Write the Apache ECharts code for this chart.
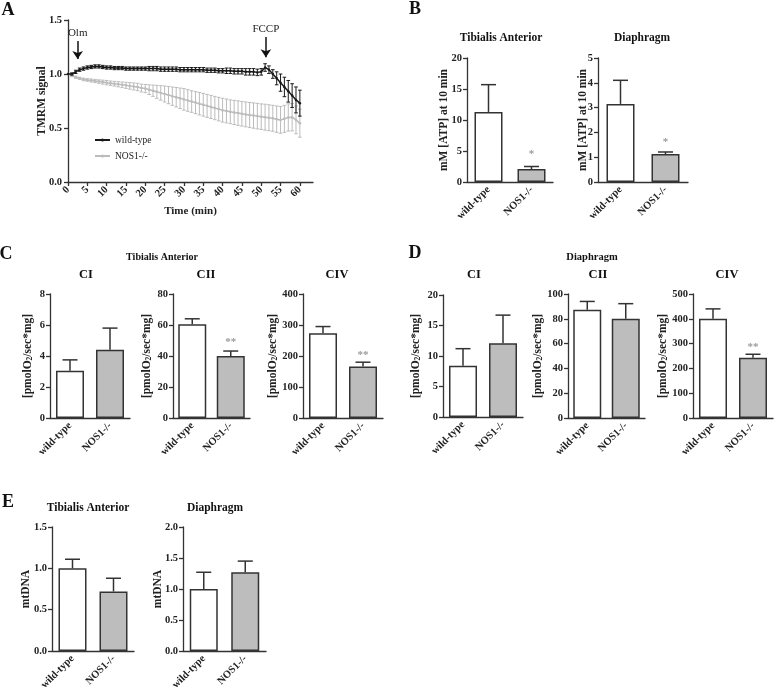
<!DOCTYPE html>
<html>
<head>
<meta charset="utf-8">
<script src="https://cdn.jsdelivr.net/npm/echarts@6/dist/echarts.min.js"></script>
<style>
  html, body { margin: 0; padding: 0; background: #fff; }
  #chart { width: 778px; height: 690px; }
</style>
</head>
<body>
<div id="chart"></div>
<script>
const FONT = '"Liberation Serif", "Times New Roman", serif';
const INK = '#333';

const groups = ['wild-type', 'NOS1-/-'];

// A: TMRM signal, one reading per minute
const timeMin = [0,1,2,3,4,5,6,7,8,9,10,11,12,13,14,15,16,17,18,19,20,21,22,23,24,25,26,27,28,29,30,
  31,32,33,34,35,36,37,38,39,40,41,42,43,44,45,46,47,48,49,50,51,52,53,54,55,56,57,58,59,60];
const timeTicks = [0,5,10,15,20,25,30,35,40,45,50,55,60];
const wtMean = [1.00,1.00,1.02,1.04,1.05,1.06,1.065,1.07,1.07,1.065,1.06,
  1.06,1.055,1.055,1.055,1.05,1.05,1.05,1.05,1.05,1.05,
  1.05,1.05,1.05,1.045,1.045,1.045,1.045,1.045,1.04,1.04,
  1.04,1.04,1.04,1.04,1.04,1.035,1.035,1.035,1.03,1.03,
  1.03,1.03,1.025,1.025,1.025,1.02,1.02,1.02,1.015,1.02,
  1.06,1.04,1.00,0.96,0.92,0.88,0.84,0.80,0.76,0.73];
const wtErr = [0,0.01,0.015,0.015,0.015,0.015,0.015,0.015,0.015,0.015,0.015,
  0.015,0.015,0.015,0.015,0.015,0.015,0.015,0.015,0.015,0.015,
  0.02,0.02,0.02,0.02,0.02,0.02,0.02,0.02,0.02,0.02,
  0.02,0.02,0.02,0.02,0.02,0.02,0.02,0.02,0.02,0.02,
  0.025,0.025,0.025,0.025,0.025,0.03,0.03,0.03,0.03,0.03,
  0.035,0.035,0.04,0.06,0.08,0.09,0.10,0.11,0.12,0.12];
const koMean = [1.00,0.985,0.97,0.96,0.95,0.945,0.94,0.935,0.93,0.925,0.92,
  0.915,0.91,0.905,0.90,0.895,0.89,0.885,0.88,0.87,0.865,
  0.855,0.845,0.835,0.825,0.815,0.805,0.795,0.785,0.775,0.765,
  0.755,0.745,0.735,0.725,0.715,0.705,0.695,0.685,0.675,0.665,
  0.658,0.65,0.644,0.638,0.632,0.626,0.62,0.615,0.61,0.605,
  0.60,0.595,0.59,0.582,0.575,0.585,0.598,0.60,0.575,0.545];
const koErr = [0,0.01,0.01,0.01,0.012,0.012,0.014,0.015,0.016,0.018,0.02,
  0.02,0.022,0.024,0.026,0.028,0.03,0.032,0.034,0.036,0.038,
  0.045,0.052,0.06,0.067,0.074,0.08,0.085,0.09,0.095,0.10,
  0.10,0.10,0.102,0.104,0.105,0.106,0.107,0.108,0.109,0.11,
  0.11,0.11,0.112,0.113,0.114,0.115,0.116,0.117,0.118,0.118,
  0.12,0.12,0.12,0.122,0.124,0.125,0.126,0.127,0.128,0.13];

// B: ATP at 10 min
const atpTA = [11.3, 2.1],   atpTAErr = [4.4, 0.4];
const atpDia = [3.15, 1.13], atpDiaErr = [0.95, 0.08];
// C: Tibialis Anterior respiration
const taCI = [3.05, 4.4],  taCIErr = [0.7, 1.4];
const taCII = [60.5, 40],  taCIIErr = [3.5, 3.2];
const taCIV = [273, 166],  taCIVErr = [22, 14];
// D: Diaphragm respiration
const diaCI = [8.4, 12.1],   diaCIErr = [2.8, 4.6];
const diaCII = [87.3, 80],   diaCIIErr = [6.7, 12.2];
const diaCIV = [400, 243],   diaCIVErr = [40, 14];
// E: mtDNA
const mtTA = [1.0, 0.72],  mtTAErr = [0.11, 0.16];
const mtDia = [1.0, 1.27], mtDiaErr = [0.27, 0.18];
// significance marks and where they sit
const sigATPTA = ['', '*'],   sigATPTAAt = [0, 4.9];
const sigATPDia = ['', '*'],  sigATPDiaAt = [0, 1.73];
const sigTaCII = ['', '**'],  sigTaCIIAt = [0, 51];
const sigTaCIV = ['', '**'],  sigTaCIVAt = [0, 214];
const sigDiaCIV = ['', '**'], sigDiaCIVAt = [0, 297];

const PMOL = '[pmolO{sub|2}/sec*mg]';

const panels = [
  { box: [467, 58, 86, 124], max: 20, step: 5, dec: 0, name: 'mM [ATP] at 10 min', gap: 17, mean: atpTA, err: atpTAErr, sig: sigATPTA, sigAt: sigATPTAAt },
  { box: [598, 58, 90, 124], max: 5, step: 1, dec: 0, name: 'mM [ATP] at 10 min', gap: 9, mean: atpDia, err: atpDiaErr, sig: sigATPDia, sigAt: sigATPDiaAt },
  { box: [50, 294, 80, 124], max: 8, step: 2, dec: 0, name: PMOL, gap: 16, mean: taCI, err: taCIErr },
  { box: [173, 294, 77, 124], max: 80, step: 20, dec: 0, name: PMOL, gap: 20, mean: taCII, err: taCIIErr, sig: sigTaCII, sigAt: sigTaCIIAt },
  { box: [303, 294, 80, 124], max: 400, step: 100, dec: 0, name: PMOL, gap: 24, mean: taCIV, err: taCIVErr, sig: sigTaCIV, sigAt: sigTaCIVAt },
  { box: [443, 295, 80, 122], max: 20, step: 5, dec: 0, name: PMOL, gap: 21, mean: diaCI, err: diaCIErr },
  { box: [568, 294, 77, 124], max: 100, step: 20, dec: 0, name: PMOL, gap: 24, mean: diaCII, err: diaCIIErr },
  { box: [693, 294, 80, 124], max: 500, step: 100, dec: 0, name: PMOL, gap: 24, mean: diaCIV, err: diaCIVErr, sig: sigDiaCIV, sigAt: sigDiaCIVAt },
  { box: [52, 527, 82, 124], max: 1.5, step: 0.5, dec: 1, name: 'mtDNA', gap: 20, mean: mtTA, err: mtTAErr },
  { box: [183, 527, 83, 124], max: 2.0, step: 0.5, dec: 1, name: 'mtDNA', gap: 19, mean: mtDia, err: mtDiaErr }
];

const axisLine = { show: true, lineStyle: { color: INK, width: 1.3 } };
const tickLabel = { fontFamily: FONT, fontWeight: 'bold', fontSize: 10.5, color: '#222' };
const nameStyle = {
  fontFamily: FONT, fontWeight: 'bold', fontSize: 11.5, color: '#222',
  rich: { sub: { fontFamily: FONT, fontWeight: 'bold', fontSize: 7.5, lineHeight: 9, verticalAlign: 'bottom', color: '#222' } }
};

const grids = [], xAxes = [], yAxes = [], series = [];

// error bars for the time course (both sides)
function lineErr(color) {
  return function (params, api) {
    const t = api.value(0), m = api.value(1), e = api.value(2);
    if (!e) return { type: 'group', children: [] };
    const lo = api.coord([t, m - e]), hi = api.coord([t, m + e]);
    const w = 1.8;
    const mk = (x1, y1, x2, y2) => ({ type: 'line', shape: { x1, y1, x2, y2 }, style: { stroke: color, lineWidth: 1 } });
    return { type: 'group', children: [
      mk(lo[0], lo[1], hi[0], hi[1]),
      mk(lo[0] - w, lo[1], lo[0] + w, lo[1]),
      mk(hi[0] - w, hi[1], hi[0] + w, hi[1])
    ] };
  };
}

// upper error bar and significance mark on a bar
function barErr(p) {
  return function (params, api) {
    const k = api.value(0), v = api.value(1), e = api.value(2);
    const base = api.coord([k, v]), top = api.coord([k, v + e]);
    const w = 7.5;
    const mk = (x1, y1, x2, y2) => ({ type: 'line', shape: { x1, y1, x2, y2 }, style: { stroke: INK, lineWidth: 1.5 } });
    const kids = [mk(base[0], base[1], top[0], top[1]), mk(top[0] - w, top[1], top[0] + w, top[1])];
    if (p.sig && p.sig[k]) {
      const s = api.coord([k, p.sigAt[k]]);
      kids.push({ type: 'text', x: s[0], y: s[1] + 3, style: {
        text: p.sig[k], fill: '#999', font: 'bold 11px ' + FONT, textAlign: 'center', textVerticalAlign: 'middle' } });
    }
    return { type: 'group', children: kids };
  };
}

// panel A
grids.push({ left: 68, top: 20, width: 245, height: 162, outerBoundsMode: 'none' });
xAxes.push({
  gridIndex: 0, type: 'value', min: 0, max: 63.4, interval: 5,
  name: 'Time (min)', nameLocation: 'middle', nameGap: 24, nameMoveOverlap: false,
  nameTextStyle: { fontFamily: FONT, fontWeight: 'bold', fontSize: 11, color: '#222' },
  axisLine: axisLine, splitLine: { show: false },
  axisTick: { show: true, length: 4, lineStyle: { color: INK, width: 1.3 }, customValues: timeTicks },
  axisLabel: Object.assign({ rotate: 45, margin: 6, customValues: timeTicks, formatter: v => (v % 5 === 0 ? String(v) : '') }, tickLabel)
});
yAxes.push({
  gridIndex: 0, type: 'value', min: 0, max: 1.5, interval: 0.5,
  name: 'TMRM signal', nameLocation: 'middle', nameGap: 20, nameMoveOverlap: false, nameTextStyle: nameStyle,
  axisLine: axisLine, splitLine: { show: false },
  axisTick: { show: true, length: 4, lineStyle: { color: INK, width: 1.3 } },
  axisLabel: Object.assign({ margin: 6, formatter: v => v.toFixed(1) }, tickLabel)
});
const KO_GREY = '#bcbcbc', WT_BLACK = '#1a1a1a';
series.push({
  type: 'custom', xAxisIndex: 0, yAxisIndex: 0, z: 1, silent: true,
  encode: { x: 0, y: 1 }, data: timeMin.map((t, k) => [t, koMean[k], koErr[k]]), renderItem: lineErr(KO_GREY)
});
series.push({
  name: 'NOS1-/-', type: 'line', xAxisIndex: 0, yAxisIndex: 0, z: 2, silent: true,
  data: timeMin.map((t, k) => [t, koMean[k]]),
  symbol: 'circle', symbolSize: 2.5, showSymbol: true,
  lineStyle: { color: KO_GREY, width: 1.5 }, itemStyle: { color: KO_GREY }
});
series.push({
  type: 'custom', xAxisIndex: 0, yAxisIndex: 0, z: 3, silent: true,
  encode: { x: 0, y: 1 }, data: timeMin.map((t, k) => [t, wtMean[k], wtErr[k]]), renderItem: lineErr(WT_BLACK)
});
series.push({
  name: 'wild-type', type: 'line', xAxisIndex: 0, yAxisIndex: 0, z: 4, silent: true,
  data: timeMin.map((t, k) => [t, wtMean[k]]),
  symbol: 'circle', symbolSize: 2.5, showSymbol: true,
  lineStyle: { color: WT_BLACK, width: 1.5 }, itemStyle: { color: WT_BLACK },
  markLine: {
    silent: true, animation: false, symbol: ['none', 'arrow'], symbolSize: 8,
    lineStyle: { color: '#111', width: 1.5, type: 'solid' },
    label: { show: true, position: 'start', distance: 2, fontFamily: FONT, fontSize: 11, color: '#222',
      formatter: p => ['Olm', 'FCCP'][p.dataIndex] },
    data: [
      [{ coord: [2.5, 1.305] }, { coord: [2.5, 1.14] }],
      [{ coord: [51.2, 1.343] }, { coord: [51.2, 1.155] }]
    ]
  }
});

// bar panels
panels.forEach(p => {
  const i = grids.length;
  grids.push({ left: p.box[0], top: p.box[1], width: p.box[2], height: p.box[3], outerBoundsMode: 'none' });
  xAxes.push({
    gridIndex: i, type: 'category', data: groups,
    axisLine: axisLine, axisTick: { show: false }, splitLine: { show: false },
    axisLabel: Object.assign({ rotate: 45, margin: 6, interval: 0 }, tickLabel)
  });
  yAxes.push({
    gridIndex: i, type: 'value', min: 0, max: p.max, interval: p.step,
    name: p.name, nameLocation: 'middle', nameGap: p.gap, nameMoveOverlap: false, nameTextStyle: nameStyle,
    axisLine: axisLine, splitLine: { show: false },
    axisTick: { show: true, length: 4, lineStyle: { color: INK, width: 1.3 } },
    axisLabel: Object.assign({ margin: 5, formatter: v => v.toFixed(p.dec) }, tickLabel)
  });
  series.push({
    type: 'bar', xAxisIndex: i, yAxisIndex: i, barWidth: 28, silent: true,
    data: p.mean.map((v, k) => ({ value: v, itemStyle: { color: k ? '#bdbdbd' : '#ffffff' } })),
    itemStyle: { borderColor: INK, borderWidth: 1.5 }
  });
  series.push({
    type: 'custom', xAxisIndex: i, yAxisIndex: i, z: 3, silent: true,
    encode: { x: 0, y: 1 }, data: p.mean.map((v, k) => [k, v, p.err[k]]), renderItem: barErr(p)
  });
});

const labels = [
  ['A', 8, 10, 18], ['B', 415, 9, 18], ['C', 6, 254, 18], ['D', 415, 253, 18], ['E', 8, 502, 18],
  ['Tibialis Anterior', 501, 38, 11.5], ['Diaphragm', 642, 38, 11.5],
  ['Tibialis Anterior', 162, 257, 10], ['CI', 86, 275, 12.5], ['CII', 206, 275, 12.5], ['CIV', 337, 275, 12.5],
  ['Diaphragm', 592, 257, 10.5], ['CI', 474, 275, 12.5], ['CII', 598, 275, 12.5], ['CIV', 727, 275, 12.5],
  ['Tibialis Anterior', 88, 508, 11.5], ['Diaphragm', 215, 508, 11.5]
];

const chart = echarts.init(document.getElementById('chart'), null, { renderer: 'canvas' });
chart.setOption({
  backgroundColor: '#fff',
  animation: false,
  textStyle: { fontFamily: FONT },
  grid: grids,
  xAxis: xAxes,
  yAxis: yAxes,
  legend: {
    data: ['wild-type', 'NOS1-/-'], orient: 'vertical', left: 89, top: 130,
    itemWidth: 15, itemHeight: 4, itemGap: 6, selectedMode: false,
    textStyle: { fontFamily: FONT, fontSize: 9.5, color: '#222' }
  },
  graphic: labels.map(t => ({
    type: 'text', x: t[1], y: t[2], silent: true,
    style: { text: t[0], font: 'bold ' + t[3] + 'px ' + FONT, fill: '#111', textAlign: 'center', textVerticalAlign: 'middle' }
  })),
  series: series
});
</script>
</body>
</html>
